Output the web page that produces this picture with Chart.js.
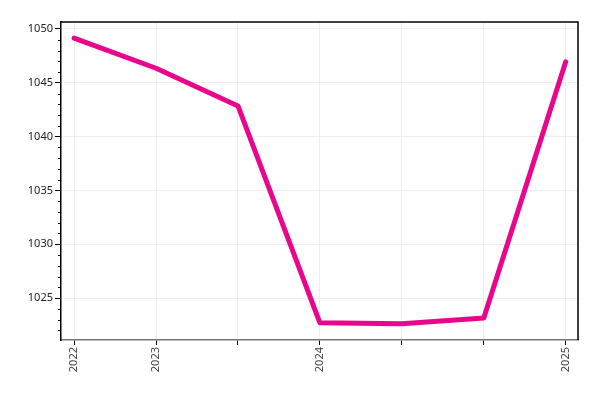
<!DOCTYPE html>
<html>
<head>
<meta charset="utf-8">
<script src="https://cdn.jsdelivr.net/npm/chart.js@4"></script>
<style>
  html, body { margin: 0; padding: 0; background: #fff; }
  #wrap { width: 600px; height: 400px; }
</style>
</head>
<body>
<div id="wrap"><canvas id="line_chart"></canvas></div>
<script>
// x positions are just the point index, labels only on year starts
const tick_labels = ["2022", "2023", "", "2024", "", "", "2025"];
const values = [1049.15, 1046.35, 1042.85, 1022.7, 1022.6, 1023.15, 1046.95];
const y_min = 1021.1;
const y_max = 1050.65;

// small ticks at every unit on the y axis, plus box lines on top/right
const frame_plugin = {
  id: "frame",
  afterDraw: (chart) => {
    const ctx = chart.ctx;
    const area = chart.chartArea;
    const y = chart.scales.y;
    ctx.save();
    ctx.strokeStyle = "#000";
    ctx.lineWidth = 1;
    for (let v = Math.ceil(y.min); v <= y.max; v++) {
      if (v % 5 === 0) continue;
      const py = Math.round(y.getPixelForValue(v)) + 0.5;
      ctx.beginPath();
      ctx.moveTo(area.left - 3, py);
      ctx.lineTo(area.left, py);
      ctx.stroke();
    }
    ctx.lineWidth = 1.5;
    ctx.beginPath();
    ctx.moveTo(area.left, area.top);
    ctx.lineTo(area.right, area.top);
    ctx.lineTo(area.right, area.bottom);
    ctx.stroke();
    ctx.restore();
  },
};

const config_line = {
  type: "line",
  data: {
    datasets: [
      {
        data: values.map((v, i) => ({ x: i, y: v })),
        borderColor: "#e8078c",
        borderWidth: 5,
        borderCapStyle: "round",
        borderJoinStyle: "round",
        pointRadius: 0,
        tension: 0,
        fill: false,
      },
    ],
  },
  options: {
    responsive: true,
    maintainAspectRatio: false,
    animation: false,
    layout: { padding: { top: 22, right: 22, left: 0, bottom: 0 } },
    plugins: { legend: { display: false }, tooltip: { enabled: false } },
    scales: {
      x: {
        type: "linear",
        min: -0.16,
        max: 6.15,
        afterFit: (scale) => { scale.height = 60; },
        border: { color: "#777", width: 1.5 },
        grid: { color: "#eeeeee", tickColor: "#000", tickLength: 5 },
        ticks: {
          stepSize: 1,
          includeBounds: false,
          autoSkip: false,
          minRotation: 90,
          maxRotation: 90,
          color: "#444",
          font: { family: "Noto Sans", size: 11 },
          padding: 2,
          callback: (v) => tick_labels[v] ?? "",
        },
      },
      y: {
        min: y_min,
        max: y_max,
        afterFit: (scale) => { scale.width = 61; },
        border: { color: "#000", width: 1.5 },
        grid: { color: "#eeeeee", tickColor: "#000", tickLength: 6 },
        ticks: {
          stepSize: 5,
          includeBounds: false,
          color: "#222",
          font: { family: "Noto Sans", size: 11 },
          padding: 2,
          callback: (v) => String(v),
        },
      },
    },
  },
  plugins: [frame_plugin],
};

var line_chart = new Chart(document.getElementById("line_chart"), config_line);
</script>
</body>
</html>
